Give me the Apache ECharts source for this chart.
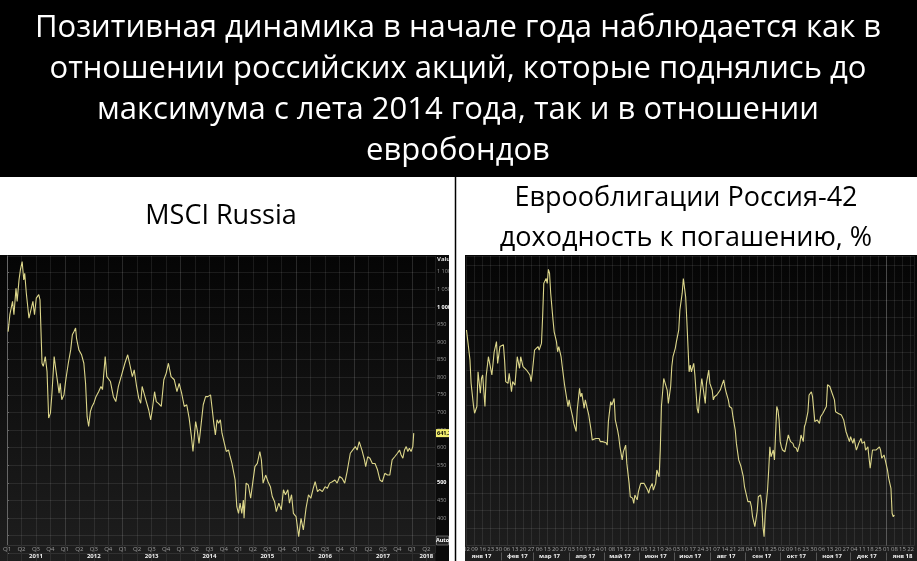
<!DOCTYPE html>
<html><head><meta charset="utf-8">
<script src="https://cdn.jsdelivr.net/npm/echarts@6/dist/echarts.min.js"></script>
<style>html,body{margin:0;padding:0;background:#fff}#c{width:917px;height:561px}</style>
</head><body><div id="c"></div>
<script>
const titleLines = [
  'Позитивная динамика в начале года наблюдается как в',
  'отношении российских акций, которые поднялись до',
  'максимума с лета 2014 года, так и в отношении',
  'евробондов'
];
const leftSubtitle = 'MSCI Russia';
const rightSubtitle = ['Еврооблигации Россия-42', 'доходность к погашению, %'];
const quarterLabels = ['Q1', 'Q2', 'Q3', 'Q4'];
const monthLabels = ['янв','фев','мар','апр','май','июн','июл','авг','сен','окт','ноя','дек'];
const boldValueLabels = [1000, 500];
const lastValueText = '641,21';

const msciDates = ['2011-01-08','2011-01-19','2011-01-29','2011-02-05','2011-02-13','2011-02-25','2011-03-04','2011-03-16','2011-03-25','2011-04-05','2011-04-15','2011-04-21','2011-05-01','2011-05-18','2011-05-28','2011-06-12','2011-06-22','2011-07-03','2011-07-19','2011-07-27','2011-08-09','2011-08-17','2011-08-30','2011-09-10','2011-09-20','2011-10-01','2011-10-11','2011-10-25','2011-11-05','2011-11-15','2011-11-25','2011-12-02','2011-12-12','2011-12-26',
'2012-01-07','2012-01-23','2012-02-07','2012-02-17','2012-02-27','2012-03-08','2012-03-14','2012-03-29','2012-04-15','2012-04-29','2012-05-10','2012-05-20','2012-05-30','2012-06-10','2012-06-20','2012-07-01','2012-07-15','2012-08-01','2012-08-16','2012-08-26','2012-09-12','2012-09-22','2012-10-03','2012-10-15','2012-11-03','2012-11-18','2012-12-04','2012-12-25',
'2013-01-15','2013-02-02','2013-02-15','2013-03-01','2013-03-13','2013-03-27','2013-04-11','2013-04-23','2013-05-02','2013-05-14','2013-05-29','2013-06-13','2013-06-25','2013-07-05','2013-07-20','2013-07-31','2013-08-14','2013-09-01','2013-09-17','2013-10-02','2013-10-16','2013-11-02','2013-11-22','2013-12-09','2013-12-23',
'2014-01-08','2014-01-25','2014-02-09','2014-02-23','2014-03-09','2014-03-19','2014-04-05','2014-04-15','2014-04-26','2014-05-10','2014-05-23','2014-06-07','2014-06-21','2014-07-08','2014-07-18','2014-07-29','2014-08-08','2014-08-19','2014-08-29','2014-09-09','2014-09-19','2014-10-04','2014-10-16','2014-10-31','2014-11-10','2014-11-21','2014-12-01','2014-12-11','2014-12-22',
'2015-01-02','2015-01-12','2015-01-23','2015-02-02','2015-02-06','2015-02-18','2015-03-03','2015-03-18','2015-03-31','2015-04-14','2015-04-29','2015-05-15','2015-05-25','2015-06-05','2015-06-21','2015-07-06','2015-07-21','2015-08-02','2015-08-17','2015-08-28','2015-09-13','2015-09-28','2015-10-12','2015-10-25','2015-11-09','2015-11-19','2015-12-02','2015-12-14','2015-12-31',
'2016-01-17','2016-02-01','2016-02-15','2016-03-02','2016-03-18','2016-04-02','2016-04-17','2016-04-29','2016-05-14','2016-05-28','2016-06-14','2016-07-01','2016-07-15','2016-07-30','2016-08-16','2016-09-02','2016-09-16','2016-10-01','2016-10-17','2016-11-03','2016-11-18','2016-12-08','2016-12-23',
'2017-01-09','2017-01-21','2017-02-03','2017-02-19','2017-03-06','2017-03-14','2017-03-27','2017-04-10','2017-04-25','2017-05-12','2017-05-28','2017-06-12','2017-06-27','2017-07-13','2017-07-30','2017-08-14','2017-08-29','2017-09-14','2017-10-01','2017-10-15','2017-10-25','2017-11-05','2017-11-15','2017-11-26','2017-12-06','2017-12-16','2017-12-27',
'2018-01-07','2018-01-13'];
const msciValues = [930,978,982,1016,978,1053,1016,1077,1106,1129,1077,1096,1039,968,987,1016,978,1025,1035,1020,840,831,859,816,684,698,755,859,821,826,755,783,736,750,
793,840,878,921,930,940,911,878,864,840,783,688,660,703,717,726,745,759,774,765,859,802,807,788,745,731,774,807,
840,864,835,802,821,778,740,726,774,778,731,707,679,707,759,731,726,717,793,812,840,802,793,759,783,
755,717,722,684,631,589,674,650,612,669,722,745,745,750,712,669,636,679,669,679,641,612,589,593,574,555,555,508,432,
413,442,413,451,399,499,494,456,499,546,555,589,565,499,522,503,489,461,446,418,442,423,480,466,480,442,466,413,404,
347,399,366,427,466,456,484,503,475,481,475,489,484,499,503,508,499,518,513,499,532,584,593,
603,593,617,593,565,546,574,570,555,555,537,508,503,527,522,522,565,574,584,593,579,570,593,603,589,598,589,
603,641.21];

const bondDates = ['2017-01-02','2017-01-03','2017-01-05','2017-01-06','2017-01-08','2017-01-09','2017-01-11','2017-01-12','2017-01-14','2017-01-15','2017-01-16','2017-01-18','2017-01-19','2017-01-21','2017-01-22','2017-01-24','2017-01-25','2017-01-26','2017-01-28','2017-01-29','2017-01-31',
'2017-02-01','2017-02-03','2017-02-04','2017-02-05','2017-02-07','2017-02-08','2017-02-10','2017-02-11','2017-02-13','2017-02-14','2017-02-15','2017-02-17','2017-02-18','2017-02-20','2017-02-23','2017-02-26','2017-02-27','2017-02-28',
'2017-03-02','2017-03-03','2017-03-05','2017-03-06','2017-03-08','2017-03-09','2017-03-10','2017-03-12','2017-03-13','2017-03-14','2017-03-15','2017-03-16','2017-03-18','2017-03-19','2017-03-21','2017-03-22','2017-03-23','2017-03-25','2017-03-26','2017-03-28','2017-03-29','2017-03-31',
'2017-04-01','2017-04-02','2017-04-04','2017-04-05','2017-04-07','2017-04-08','2017-04-10','2017-04-11','2017-04-12','2017-04-14','2017-04-15','2017-04-17','2017-04-18','2017-04-20','2017-04-21','2017-04-24','2017-04-27','2017-04-28','2017-04-30',
'2017-05-01','2017-05-03','2017-05-04','2017-05-05','2017-05-07','2017-05-08','2017-05-10','2017-05-11','2017-05-13','2017-05-14','2017-05-15','2017-05-17','2017-05-18','2017-05-20','2017-05-21','2017-05-23','2017-05-24','2017-05-26','2017-05-27','2017-05-28','2017-05-30','2017-05-31',
'2017-06-02','2017-06-05','2017-06-08','2017-06-09','2017-06-10','2017-06-12','2017-06-13','2017-06-15','2017-06-16','2017-06-18','2017-06-19','2017-06-20','2017-06-22','2017-06-23','2017-06-25','2017-06-26','2017-06-28','2017-06-29','2017-06-30',
'2017-07-02','2017-07-03','2017-07-05','2017-07-06','2017-07-08','2017-07-09','2017-07-11','2017-07-12','2017-07-13','2017-07-14','2017-07-15','2017-07-16','2017-07-18','2017-07-19','2017-07-21','2017-07-22','2017-07-23','2017-07-25','2017-07-26','2017-07-28','2017-07-29','2017-07-31',
'2017-08-01','2017-08-03','2017-08-04','2017-08-05','2017-08-07','2017-08-08','2017-08-10','2017-08-11','2017-08-13','2017-08-14','2017-08-15','2017-08-17','2017-08-18','2017-08-20','2017-08-21','2017-08-23','2017-08-24','2017-08-26','2017-08-27','2017-08-28','2017-08-30','2017-08-31',
'2017-09-02','2017-09-03','2017-09-05','2017-09-06','2017-09-07','2017-09-09','2017-09-10','2017-09-11','2017-09-12','2017-09-14','2017-09-15','2017-09-16','2017-09-17','2017-09-18','2017-09-20','2017-09-21','2017-09-22','2017-09-23','2017-09-25','2017-09-26','2017-09-28','2017-09-29','2017-09-30',
'2017-10-01','2017-10-02','2017-10-03','2017-10-05','2017-10-06','2017-10-08','2017-10-09','2017-10-10','2017-10-12','2017-10-13','2017-10-15','2017-10-16','2017-10-18','2017-10-19','2017-10-21','2017-10-22','2017-10-23','2017-10-25','2017-10-26','2017-10-28','2017-10-29','2017-10-31',
'2017-11-01','2017-11-02','2017-11-04','2017-11-05','2017-11-07','2017-11-08','2017-11-10','2017-11-11','2017-11-13','2017-11-14','2017-11-15','2017-11-17','2017-11-18','2017-11-20','2017-11-21','2017-11-23','2017-11-24','2017-11-25','2017-11-27','2017-11-28','2017-11-30',
'2017-12-01','2017-12-03','2017-12-04','2017-12-06','2017-12-07','2017-12-08','2017-12-10','2017-12-11','2017-12-13','2017-12-14','2017-12-16','2017-12-17','2017-12-18','2017-12-20','2017-12-21','2017-12-23','2017-12-24','2017-12-26','2017-12-27','2017-12-28','2017-12-30','2017-12-31',
'2018-01-02','2018-01-03','2018-01-05','2018-01-06','2018-01-07','2018-01-08'];
const bondYields = [5.314,5.286,5.229,5.162,5.100,5.077,5.096,5.195,5.134,5.176,5.186,5.096,5.181,5.238,5.238,5.186,5.181,5.252,5.281,5.219,5.267,
5.262,5.272,5.229,5.167,5.162,5.191,5.138,5.167,5.157,5.162,5.238,5.205,5.238,5.210,5.200,5.186,5.167,5.191,
5.257,5.257,5.267,5.257,5.276,5.352,5.447,5.461,5.447,5.487,5.476,5.419,5.343,5.309,5.281,5.252,5.267,5.238,5.210,5.158,5.153,5.096,
5.115,5.096,5.067,5.048,5.025,5.086,5.148,5.124,5.134,5.091,5.115,5.086,5.072,5.029,5.001,5.005,5.005,4.996,4.996,
4.991,4.993,4.986,5.053,5.110,5.100,5.119,5.058,5.029,5.010,4.982,4.944,4.967,4.986,4.934,4.877,4.839,4.835,4.820,4.844,4.830,4.853,
4.877,4.877,4.858,4.849,4.863,4.877,4.858,4.877,4.915,4.896,4.972,5.096,5.176,5.176,5.143,5.105,5.153,5.210,5.238,
5.262,5.281,5.314,5.371,5.419,5.461,5.409,5.343,5.338,5.195,5.214,5.195,5.219,5.186,5.091,5.077,5.115,5.176,5.176,5.105,5.162,5.200,
5.162,5.143,5.115,5.124,5.129,5.129,5.143,5.153,5.172,5.153,5.138,5.115,5.096,5.091,5.067,5.029,4.991,4.944,4.939,4.925,4.896,4.868,
4.839,4.825,4.825,4.811,4.782,4.754,4.749,4.797,4.839,4.844,4.820,4.754,4.725,4.792,4.858,4.915,4.981,4.953,4.972,4.944,5.096,5.086,5.058,
4.996,4.981,4.972,4.967,4.972,5.015,5.005,4.996,4.991,4.981,4.977,4.967,4.991,5.015,4.996,5.039,5.048,5.081,5.129,5.138,5.124,5.053,
5.058,5.058,5.048,5.067,5.077,5.081,5.096,5.158,5.153,5.148,5.134,5.115,5.081,5.077,5.077,5.072,5.067,5.058,5.025,5.020,4.996,
5.010,4.991,5.005,4.972,4.981,4.991,5.005,4.991,4.996,4.972,4.981,4.949,4.920,4.972,4.972,4.972,4.977,4.981,4.972,4.949,4.958,4.944,
4.915,4.892,4.863,4.792,4.782,4.787];

// ---- helpers (date -> axis coordinate) ----
function parse(s) { return s.split('-').map(Number); }
const MSCI_START_YEAR = 2011;
function monthIndex(s) {
  const [y, m, d] = parse(s);
  const dim = new Date(Date.UTC(y, m, 0)).getUTCDate();
  return (y - MSCI_START_YEAR) * 12 + (m - 1) + (d - 1) / dim;
}
const BOND_START = Date.UTC(2017, 0, 2);
function dayIndex(s) { const [y, m, d] = parse(s); return Math.round((Date.UTC(y, m - 1, d) - BOND_START) / 86400000); }
function dayToDate(i) { return new Date(BOND_START + i * 86400000); }

const LEFT_MAX_M = 88.8;
const RIGHT_MAX_D = 388;
const dayCategories = [];
for (let i = 0; i <= RIGHT_MAX_D; i++) dayCategories.push(String(i));

const msciData = msciDates.map((d, i) => [monthIndex(d), msciValues[i]]);
const bondData = bondDates.map((d, i) => [dayIndex(d), bondYields[i]]);

const FONT = "'Open Sans', 'Noto Sans', sans-serif";
const LINE = '#dcd68a';
const GRIDC = 'rgba(255,255,255,0.085)';

function quarterFormatter(v) {
  if (Math.abs(v - Math.round(v)) > 1e-6 || Math.round(v) % 3 !== 0) return '';
  v = Math.round(v);
  const q = (v / 3) % 4;
  const yr = MSCI_START_YEAR + Math.floor(v / 12);
  const ys = (yr - MSCI_START_YEAR) * 12;
  const mid = (Math.max(ys, 0) + Math.min(ys + 12, LEFT_MAX_M)) / 2;
  const tick = Math.round(mid / 3) * 3;
  const yl = (v === tick) ? String(yr) : ' ';
  return '{q|' + quarterLabels[q] + '}\n{y|' + yl + '}';
}

const chart = echarts.init(document.getElementById('c'), null, { renderer: 'canvas' });
const bgGrad = new echarts.graphic.LinearGradient(0, 0, 0, 1, [
  { offset: 0, color: '#050505' }, { offset: 1, color: '#1e1e1e' }]);

chart.setOption({
  animation: false,
  backgroundColor: '#ffffff',
  textStyle: { fontFamily: FONT },
  graphic: [
    { type: 'rect', z: -20, shape: { x: 0, y: 0, width: 917, height: 177 }, style: { fill: '#000' } },
    { type: 'rect', z: -20, shape: { x: 0, y: 255, width: 449, height: 306 }, style: { fill: bgGrad } },
    { type: 'rect', z: -19, shape: { x: 435.5, y: 255, width: 14, height: 306 }, style: { fill: '#0a0a0a' } },
    { type: 'rect', z: -20, shape: { x: 465, y: 255, width: 452, height: 306 }, style: { fill: bgGrad } },
    { type: 'text', z: 10, x: 458, y: 8, style: { text: titleLines.join('\n'), fill: '#fff', font: '31px ' + FONT, lineHeight: 41, align: 'center', verticalAlign: 'top' } },
    { type: 'text', z: 10, x: 221, y: 216, style: { text: leftSubtitle, fill: '#000', font: '27px ' + FONT, align: 'center', verticalAlign: 'middle' } },
    { type: 'text', z: 10, x: 686, y: 178, style: { text: rightSubtitle.join('\n'), fill: '#000', font: '27px ' + FONT, lineHeight: 40, align: 'center', verticalAlign: 'top' } },
    { type: 'text', z: 10, x: 437, y: 259, style: { text: 'Value', fill: '#ddd', font: 'bold 6px ' + FONT, verticalAlign: 'middle' } },
    { type: 'rect', z: 10, shape: { x: 436.5, y: 536, width: 12, height: 9 }, style: { fill: '#222', stroke: '#888', lineWidth: 0.7 } },
    { type: 'text', z: 11, x: 442.5, y: 540.5, style: { text: 'Auto', fill: '#fff', font: 'bold 5.5px ' + FONT, align: 'center', verticalAlign: 'middle' } },
    { type: 'rect', z: 100, shape: { x: 449, y: 255, width: 16, height: 306 }, style: { fill: '#fff' } },
    { type: 'line', z: 101, shape: { x1: 455.5, y1: 177, x2: 455.5, y2: 561 }, style: { stroke: '#000', lineWidth: 1.5 } }
  ],
  grid: [
    { left: 0, right: 482, top: 256, bottom: 7.9, containLabel: false },
    { left: 466.5, right: 0, top: 256, bottom: 15.5, containLabel: false }
  ],
  xAxis: [
    { type: 'value', gridIndex: 0, position: 'bottom', min: 0, max: LEFT_MAX_M, interval: 3, offset: -8,
      axisLine: { show: true, lineStyle: { color: '#333' } },
      axisTick: { show: true, length: 16, lineStyle: { color: '#2e2e2e' } },
      splitLine: { show: true, lineStyle: { color: ['rgba(255,255,255,0.14)', GRIDC, GRIDC, GRIDC], width: 1 } },
      axisLabel: { margin: 1, formatter: quarterFormatter, showMaxLabel: false,
        rich: { q: { color: '#9a9a9a', fontSize: 6, lineHeight: 7, fontFamily: FONT },
                y: { color: '#f2f2f2', fontSize: 6, fontWeight: 'bold', lineHeight: 7, fontFamily: FONT } } } },
    { type: 'value', gridIndex: 1, position: 'bottom', min: 0, max: RIGHT_MAX_D, interval: 7,
      axisLine: { show: true, lineStyle: { color: '#333' } },
      axisTick: { show: false },
      splitLine: { show: true, lineStyle: { color: GRIDC } },
      axisLabel: { margin: 1, color: '#a0a0a0', fontSize: 6, showMaxLabel: false,
        formatter: v => (v % 7 !== 0) ? '' : String(dayToDate(v).getUTCDate()).padStart(2, '0') } },
    { type: 'category', gridIndex: 1, position: 'bottom', data: dayCategories, boundaryGap: false, offset: 7,
      axisLine: { show: false },
      axisTick: { show: true, length: 8, lineStyle: { color: '#555' },
        interval: (i) => dayToDate(i).getUTCDate() === 1 },
      splitLine: { show: false },
      axisLabel: { margin: 1, color: '#f2f2f2', fontSize: 6, fontWeight: 'bold',
        interval: (i) => dayToDate(i).getUTCDate() === 15,
        formatter: (v) => { const dt = dayToDate(Number(v)); return monthLabels[dt.getUTCMonth()] + ' ' + String(dt.getUTCFullYear()).slice(2); } } }
  ],
  yAxis: [
    { type: 'value', gridIndex: 0, position: 'right', min: 300, max: 1145, interval: 50,
      axisLine: { show: true, lineStyle: { color: '#666' } },
      axisTick: { show: true, length: 2, lineStyle: { color: '#666' } },
      splitLine: { show: true, lineStyle: { color: GRIDC } },
      axisLabel: { margin: 2, showMaxLabel: false,
        formatter: v => {
          if (v % 50 !== 0 || v < 400) return '';
          const s = v >= 1000 ? Math.floor(v / 1000) + ' ' + String(v % 1000).padStart(3, '0') : String(v);
          return boldValueLabels.indexOf(v) >= 0 ? '{b|' + s + '}' : '{n|' + s + '}';
        },
        rich: { n: { color: '#9a9a9a', fontSize: 5.5, fontFamily: FONT }, b: { color: '#fff', fontSize: 5.5, fontWeight: 'bold', fontFamily: FONT } } },
      axisPointer: { show: true, value: msciValues[msciValues.length - 1], status: 'show', triggerTooltip: false,
        lineStyle: { opacity: 0 },
        label: { show: true, formatter: () => lastValueText, backgroundColor: '#f3ee6e', color: '#000', fontSize: 5.5, fontWeight: 'bold', padding: [1, 1, 1, 1], margin: 1, borderRadius: 0 },
        handle: { show: false } } },
    { type: 'value', gridIndex: 1, min: 4.70, max: 5.525, interval: 0.05,
      axisLine: { show: false }, axisTick: { show: false }, axisLabel: { show: false },
      splitLine: { show: true, lineStyle: { color: GRIDC } } }
  ],
  series: [
    { type: 'line', xAxisIndex: 0, yAxisIndex: 0, data: msciData, showSymbol: false, symbol: 'none',
      lineStyle: { color: LINE, width: 1.1 }, z: 5 },
    { type: 'line', xAxisIndex: 1, yAxisIndex: 1, data: bondData, showSymbol: false, symbol: 'none',
      lineStyle: { color: LINE, width: 1.1 }, z: 5,
      markLine: { silent: true, symbol: 'none', label: { show: false },
        lineStyle: { color: 'rgba(255,255,255,0.2)', type: 'solid', width: 1 },
        data: [{ xAxis: dayIndex('2018-01-01') }] } }
  ]
});
</script></body></html>
